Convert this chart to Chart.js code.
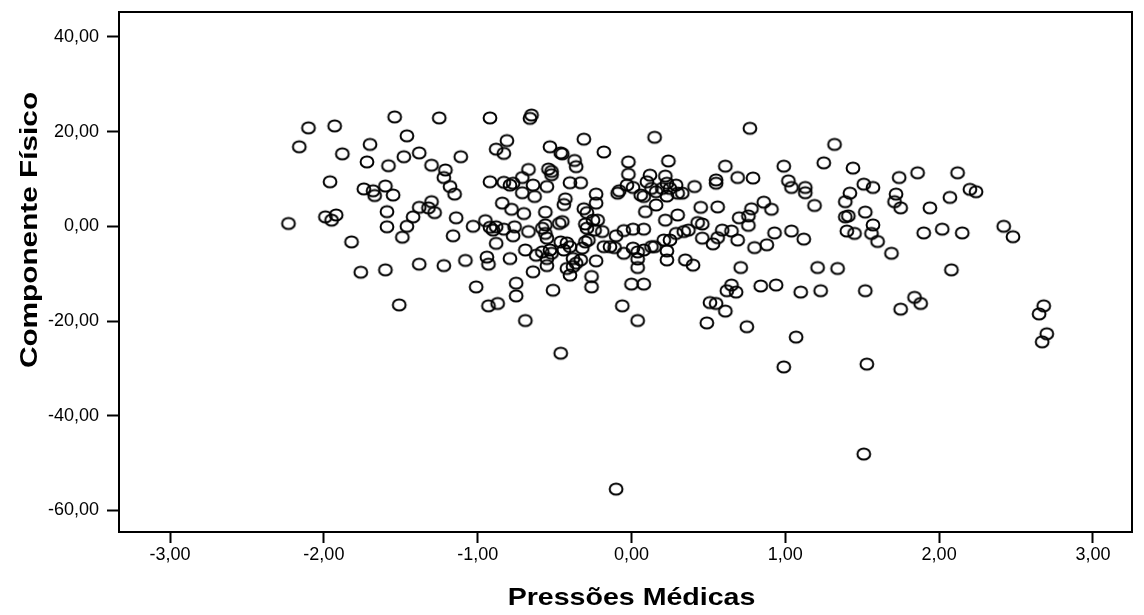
<!DOCTYPE html>
<html>
<head>
<meta charset="utf-8">
<title>Componente Físico vs Pressões Médicas</title>
<script src="https://cdn.jsdelivr.net/npm/chart.js@4.4.1/dist/chart.umd.min.js"></script>
<style>
    body { margin: 0; background: #fff; }
    canvas { display: block; }
</style>
</head>
<body>
<canvas id="scatterChart" width="1144" height="615"></canvas>
<script>
// values
const pressoesMedicas = [
    -2.23, -2.16, -2.10, -1.99, -1.96, -1.95, -1.93, -1.92, -1.88, -1.82, -1.76, -1.74,
    -1.72, -1.70, -1.68, -1.67, -1.60, -1.60, -1.59, -1.59, -1.58, -1.55, -1.54, -1.51,
    -1.49, -1.48, -1.46, -1.46, -1.42, -1.38, -1.38, -1.38, -1.32, -1.30, -1.30, -1.28,
    -1.25, -1.22, -1.22, -1.21, -1.18, -1.16, -1.15, -1.14, -1.11, -1.08, -1.03, -1.01,
    -0.92, -0.65, -0.66, -0.81, -0.88, -0.83, -0.53, -0.31, 0.15, -0.45, -0.18, -0.37,
    -0.36, -0.02, 0.24, -0.54, -0.52, -0.52, -0.67, -0.46, -0.02, 0.12, 0.22, -0.92,
    -0.83, -0.79, -0.77, -0.71, -0.64, -0.55, -0.40, -0.33, -0.71, -0.63, -0.43, -0.44,
    -0.23, -0.08, -0.09, -0.03, 0.01, 0.06, 0.08, 0.10, 0.13, 0.16, 0.20, 0.23,
    0.25, 0.29, 0.30, 0.23, -0.84, -0.78, -0.70, -0.56, -0.31, -0.29, -0.23, 0.16,
    0.09, 0.22, 0.30, -0.95, -0.92, -0.90, -0.88, -0.83, -0.76, -0.77, -0.67, -0.58,
    -0.56, -0.55, -0.56, -0.47, -0.45, -0.30, -0.29, -0.25, -0.22, -0.19, -0.10, -0.05,
    0.01, 0.08, -0.88, -0.69, -0.62, -0.58, -0.53, -0.55, -0.46, -0.42, -0.40, -0.44,
    -0.32, -0.30, -0.28, -0.18, -0.14, -0.11, -0.05, 0.01, 0.04, 0.08, 0.13, 0.15,
    0.21, 0.25, 0.23, -0.94, -0.79, -0.38, -0.33, -0.23, 0.04, 0.23, 0.29, -0.52,
    -0.93, -0.24, -0.64, -0.42, -0.40, -0.38, -0.36, -0.26, -0.26, -0.75, -0.75, -0.51,
    0.00, 0.08, -0.93, -0.87, -0.06, -0.69, 0.04, -0.46, 0.04, -0.55,
    0.77, 1.32, 0.61, 0.99, 1.25, 1.44, 0.69, 0.79, 0.55, 0.55, 1.02, 1.04,
    1.13, 1.13, 0.33, 0.41, 1.42, 1.39, 1.51, 1.57, 1.52, 0.45, 0.56, 0.86,
    0.78, 0.91, 1.19, 0.70, 0.76, 0.76, 0.43, 0.46, 1.39, 1.41, 1.57, 0.34,
    0.37, 0.46, 0.53, 0.56, 0.59, 0.65, 0.69, 0.80, 0.88, 0.93, 1.04, 1.12,
    1.40, 1.45, 1.56, 1.60, 0.35, 0.40, 0.71, 1.21, 1.34, 0.65, 0.62, 0.68,
    0.84, 0.94, 1.10, 1.23, 1.52, 0.51, 0.55, 0.61, 0.49, 0.75, 1.07, 0.99, 1.53,
    1.86, 2.12, 1.74, 1.72, 1.71, 1.75, 1.94, 2.07, 2.20, 2.24, 1.90, 2.02,
    2.15, 2.42, 2.48, 1.69, 2.08, 1.84, 1.88, 1.75, 2.68, 2.65, 2.70, 2.67,
    1.51, -0.10
];

const componenteFisico = [
    0.6, 16.8, 20.8, 2.0, 9.4, 1.3, 21.2, 2.4, 15.3, -3.3, -9.7, 7.9,
    13.6, 17.3, 7.5, 6.5, 8.5, -9.2, -0.1, 3.1, 12.8, 6.6, 23.1, -16.6,
    -2.3, 14.7, 19.1, 0.0, 2.0, 4.0, 15.5, -8.0, 3.9, 12.9, 5.2, 2.9,
    22.9, -8.3, 10.3, 11.9, 8.4, -2.0, 6.8, 1.8, 14.7, -7.2, 0.0, -12.8,
    22.9, 23.5, 22.8, 18.1, 16.3, 15.4, 16.8, 18.4, 18.8, 15.3, 15.7, 13.9,
    12.6, 13.6, 13.8, 12.1, 11.6, 10.9, 12.0, 15.5, 11.0, 10.8, 10.6, 9.4,
    9.3, 8.7, 9.1, 10.3, 8.7, 8.4, 9.2, 9.2, 7.1, 6.3, 5.8, 4.6,
    6.8, 7.5, 7.0, 8.7, 8.2, 6.6, 6.3, 9.4, 8.0, 7.3, 8.0, 9.1,
    8.0, 8.7, 7.0, 6.4, 4.9, 3.6, 2.7, 3.0, 3.7, 2.9, 4.9, 4.5,
    3.1, 1.3, 2.4, 1.2, -0.2, -0.8, -0.1, -0.6, -0.1, -2.0, -1.1, -0.4,
    0.3, -2.5, -1.5, 0.6, 1.0, 0.5, -0.4, 1.3, 1.3, -1.1, -2.0, -0.9,
    -0.6, -0.6, -3.6, -5.0, -6.1, -5.4, -5.0, -6.8, -3.3, -3.5, -4.3, -5.0,
    -4.6, -3.3, -2.9, -4.3, -4.3, -4.5, -5.7, -4.6, -5.4, -5.0, -4.3, -4.3,
    -2.9, -2.9, -5.2, -6.5, -6.8, -6.8, -7.1, -7.3, -6.9, -7.1, -1.5, -5.7,
    -8.0, -0.8, -9.6, -8.9, -10.3, -8.5, -7.8, -10.6, -12.8, -12.0, -14.7, -13.5,
    -12.2, -12.2, -16.8, -16.3, -16.8, -19.9, -19.9, -26.8, -8.7, -8.3,
    20.7, 17.3, 12.7, 12.7, 13.4, 12.3, 10.3, 10.2, 9.8, 9.1, 9.6, 8.2,
    8.2, 7.1, 7.0, 8.4, 7.0, 5.2, 8.9, 8.2, 3.0, 4.0, 4.1, 5.1,
    3.7, 3.6, 4.4, 1.8, 2.2, 0.2, 0.8, 0.5, 2.0, 2.2, 0.3, -1.1,
    -0.8, -2.5, -3.7, -2.4, -0.8, -1.0, -2.9, -4.5, -3.9, -1.4, -1.0, -2.7,
    -1.0, -1.5, -1.5, -3.2, -7.1, -8.2, -8.7, -8.7, -8.9, -12.4, -13.6, -13.9,
    -12.6, -12.4, -13.9, -13.6, -13.6, -16.1, -16.3, -17.9, -20.4, -21.2, -23.4, -29.7, -29.1,
    11.3, 11.3, 10.3, 6.8, 5.2, 3.9, 3.9, 6.1, 7.8, 7.3, -1.4, -0.6,
    -1.4, 0.0, -2.2, -5.7, -9.2, -15.0, -16.3, -17.5, -16.8, -18.5, -22.7, -24.4,
    -48.1, -55.5
];

const xTicks = [-3, -2, -1, 0, 1, 2, 3];
const yTicks = [-60, -40, -20, 0, 20, 40];
const xTitle = 'Pressões Médicas';
const yTitle = 'Componente Físico';

document.addEventListener('DOMContentLoaded', function() {
    const points = pressoesMedicas.map((x, i) => ({ x: x, y: componenteFisico[i] }));

    // open marker, a touch wider than tall like the SPSS export
    const marker = document.createElement('canvas');
    marker.width = 18;
    marker.height = 16;
    const mctx = marker.getContext('2d');
    mctx.strokeStyle = '#000';
    mctx.lineWidth = 2;
    mctx.beginPath();
    mctx.ellipse(9, 8, 6.4, 5.6, 0, 0, Math.PI * 2);
    mctx.stroke();

    // box round the plot + the (horizontally stretched) axis titles
    const frame = {
        id: 'frame',
        afterDraw(chart) {
            const a = chart.chartArea;
            const ctx = chart.ctx;
            ctx.save();
            ctx.strokeStyle = '#000';
            ctx.lineWidth = 2;
            ctx.strokeRect(a.left, a.top, a.right - a.left, a.bottom - a.top);

            ctx.fillStyle = '#000';
            ctx.font = 'bold 24px Arial, "Liberation Sans", sans-serif';
            ctx.textAlign = 'center';
            ctx.textBaseline = 'alphabetic';

            ctx.save();
            ctx.translate((a.left + a.right) / 2 + 6, 605);
            ctx.scale(1.19, 1);
            ctx.fillText(xTitle, 0, 0);
            ctx.restore();

            ctx.save();
            ctx.translate(37, 230);
            ctx.rotate(-Math.PI / 2);
            ctx.scale(1.24, 1);
            ctx.fillText(yTitle, 0, 0);
            ctx.restore();

            ctx.restore();
        }
    };

    const fmt = v => v.toFixed(2).replace('.', ',');

    Chart.defaults.font.family = 'Arial, "Liberation Sans", sans-serif';
    Chart.defaults.color = '#000';

    new Chart(document.getElementById('scatterChart'), {
        type: 'scatter',
        data: {
            datasets: [{
                data: points,
                pointStyle: marker,
                pointRadius: 7,
                borderColor: '#000',
                backgroundColor: 'rgba(0,0,0,0)'
            }]
        },
        options: {
            responsive: false,
            animation: false,
            events: [],
            layout: { padding: { top: 12, right: 12, left: 0, bottom: 0 } },
            plugins: {
                legend: { display: false },
                tooltip: { enabled: false }
            },
            scales: {
                x: {
                    type: 'linear',
                    min: -3.332,
                    max: 3.254,
                    afterBuildTicks: s => { s.ticks = xTicks.map(v => ({ value: v })); },
                    afterFit: s => { s.height = 83; s.paddingLeft = 0; s.paddingRight = 0; },
                    grid: { drawOnChartArea: false, drawTicks: true, tickLength: 11, tickColor: '#000', tickWidth: 2 },
                    border: { display: true, color: '#000', width: 2 },
                    ticks: { callback: fmt, padding: 1, maxRotation: 0, font: { size: 18 } },
                    title: { display: false, text: xTitle }
                },
                y: {
                    type: 'linear',
                    min: -64.56,
                    max: 45.26,
                    afterBuildTicks: s => { s.ticks = yTicks.map(v => ({ value: v })); },
                    afterFit: s => { s.width = 119; s.paddingTop = 0; s.paddingBottom = 0; },
                    grid: { drawOnChartArea: false, drawTicks: true, tickLength: 12, tickColor: '#000', tickWidth: 2 },
                    border: { display: true, color: '#000', width: 2 },
                    ticks: { callback: fmt, padding: 8, font: { size: 18 } },
                    title: { display: false, text: yTitle }
                }
            }
        },
        plugins: [frame]
    });
});
</script>
</body>
</html>
